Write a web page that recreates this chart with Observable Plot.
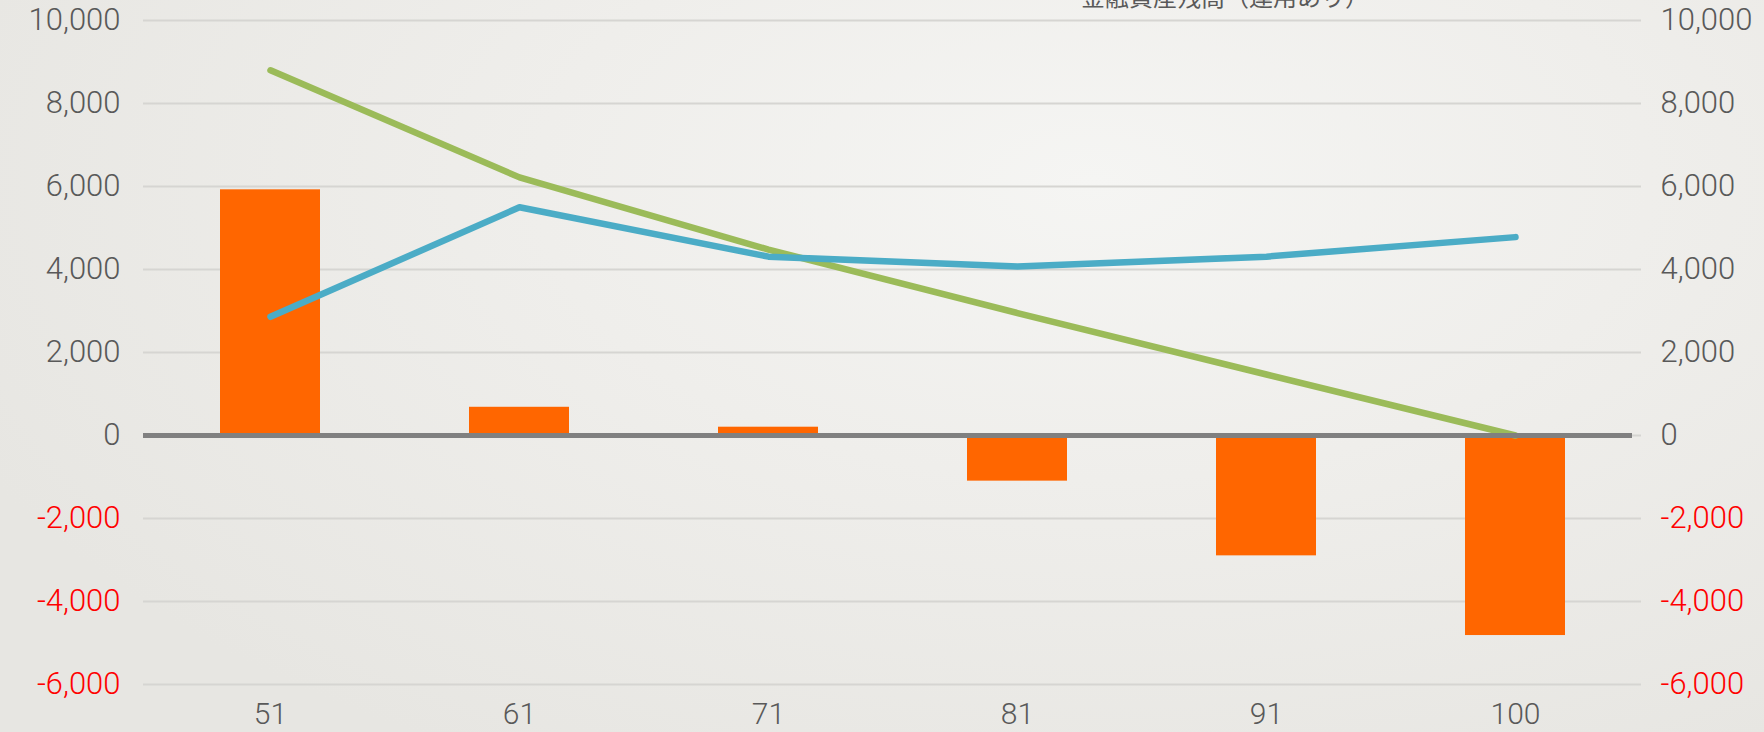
<!DOCTYPE html>
<html>
<head>
<meta charset="utf-8">
<script src="https://cdn.jsdelivr.net/npm/d3@7"></script>
<script src="https://cdn.jsdelivr.net/npm/@observablehq/plot@0.6"></script>
<style>
  html, body { margin: 0; padding: 0; }
  body {
    width: 1764px; height: 732px; overflow: hidden; position: relative;
    background: radial-gradient(ellipse 70% 90% at 62% 25%, #f5f5f3 0%, #efeeeb 45%, #e7e6e2 100%);
  }
  #legend {
    position: absolute; top: -16px; left: 1075px; width: 300px; text-align: center;
    font-family: "Noto Sans CJK JP", sans-serif; font-size: 24px; line-height: 24px;
    color: #595959; white-space: nowrap;
  }
  #chart { position: absolute; left: 0; top: 0; }
</style>
</head>
<body>
<div id="chart"></div>
<div id="legend">金融資産残高（運用あり）</div>
<script>
// Categories (age)
const ages = ["51", "61", "71", "81", "91", "100"];
// Series values
const barValues   = [5920, 680, 200, -1100, -2900, -4820];   // orange bars
const greenValues = [8800, 6220, 4480, 2950, 1470, 0];       // green line
const blueValues  = [2860, 5500, 4310, 4070, 4310, 4780];    // blue line
// Tick labels
const yTicksPos = [0, 2000, 4000, 6000, 8000, 10000];
const yTicksNeg = [-6000, -4000, -2000];
const yTicksAll = [...yTicksNeg, ...yTicksPos];

const rows = ages.map((a, i) => ({age: a, bar: barValues[i], green: greenValues[i], blue: blueValues[i]}));
const fmt = d3.formatLocale({decimal: ".", thousands: ",", grouping: [3], currency: ["", ""], minus: "-"}).format(",");
const font = "Roboto, 'Liberation Sans', sans-serif";

const chart = Plot.plot({
  width: 1764,
  height: 732,
  marginLeft: 143,
  marginRight: 123,
  marginTop: 20,
  marginBottom: 48,
  style: {background: "transparent", fontFamily: font, fontWeight: 300, color: "#595959"},
  x: {type: "band", domain: ages, paddingInner: 0.6, paddingOuter: 0.3, label: null},
  y: {domain: [-6000, 10000], label: null},
  marks: [
    Plot.gridY(yTicksAll, {stroke: "#d6d5d2", strokeOpacity: 1, strokeWidth: 2}),
    Plot.barY(rows, {x: "age", y: "bar", fill: "#ff6600"}),
    Plot.line(rows, {x: "age", y: "green", stroke: "#9bbb59", strokeWidth: 6.5, strokeLinecap: "round", strokeLinejoin: "round"}),
    Plot.ruleY([0], {stroke: "#808080", strokeWidth: 5, insetRight: 9}),
    Plot.line(rows, {x: "age", y: "blue", stroke: "#4bacc6", strokeWidth: 6.5, strokeLinecap: "round", strokeLinejoin: "round"}),
    Plot.axisY(yTicksPos, {anchor: "left", tickSize: 0, tickPadding: 23, fontSize: 31, fill: "#595959", tickFormat: fmt, label: null}),
    Plot.axisY(yTicksNeg, {anchor: "left", tickSize: 0, tickPadding: 23, fontSize: 31, fill: "#ff0000", tickFormat: fmt, label: null}),
    Plot.axisY(yTicksPos, {anchor: "right", tickSize: 0, tickPadding: 19, fontSize: 31, fill: "#595959", tickFormat: fmt, label: null}),
    Plot.axisY(yTicksNeg, {anchor: "right", tickSize: 0, tickPadding: 19, fontSize: 31, fill: "#ff0000", tickFormat: fmt, label: null}),
    Plot.axisX(ages, {anchor: "bottom", tickSize: 0, tickPadding: 18, fontSize: 30, fill: "#595959", label: null})
  ]
});
document.getElementById("chart").append(chart);
</script>
</body>
</html>
